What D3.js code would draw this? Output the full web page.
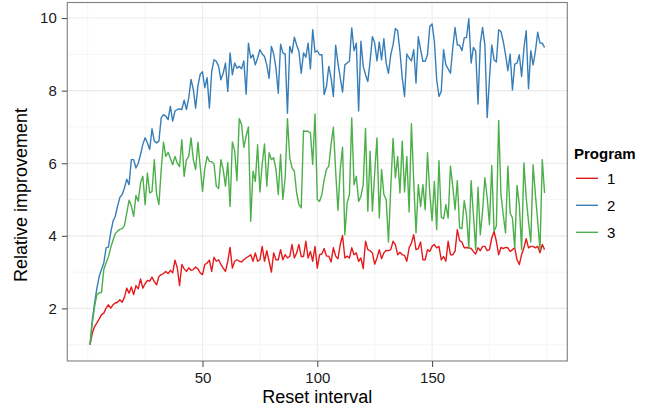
<!DOCTYPE html>
<html>
<head>
<meta charset="utf-8">
<script src="https://cdn.jsdelivr.net/npm/d3@7"></script>
<style>
  html, body { margin: 0; padding: 0; background: #fff; }
  svg { display: block; font-family: "Liberation Sans", Arial, Helvetica, sans-serif; }
</style>
</head>
<body>
<svg id="chart" width="654" height="410"></svg>
<script>
// ---- Data ----
const programs = ["1", "2", "3"];
const colors = ["#E41A1C", "#377EB8", "#4DAF4A"];
const xTicks = [50, 100, 150];
const xMinor = [0, 25, 75, 125, 175, 200];
const yTicks = [2, 4, 6, 8, 10];
const yMinor = [1, 3, 5, 7, 9];

const program1 = [
  1.0, 1.32, 1.5, 1.6, 1.71, 1.83, 1.87, 2.01, 2.1, 2.01,
  2.1, 2.15, 2.17, 2.24, 2.17, 2.31, 2.56, 2.42, 2.59, 2.38,
  2.63, 2.54, 2.81, 2.56, 2.68, 2.77, 2.75, 2.86, 2.74, 2.65,
  2.88, 2.93, 2.96, 3.02, 2.96, 3.05, 2.98, 3.33, 3.12, 2.63,
  3.21, 3.09, 3.02, 3.12, 3.05, 3.07, 3.14, 3.09, 2.98, 2.93,
  3.21, 3.25, 3.33, 3.02, 3.41, 3.30, 3.34, 3.21, 3.11, 3.02,
  3.30, 3.68, 3.11, 3.30, 3.34, 3.30, 3.28, 3.34, 3.39, 3.43,
  3.48, 3.30, 3.53, 3.30, 3.34, 3.71, 3.30, 3.59, 3.30, 3.00,
  3.53, 3.34, 3.34, 3.62, 3.34, 3.48, 3.39, 3.43, 3.76, 3.39,
  3.53, 3.76, 3.43, 3.43, 3.85, 3.39, 3.57, 3.30, 3.71, 3.11,
  3.48, 3.50, 3.65, 3.44, 3.44, 3.28, 3.67, 3.44, 3.37, 3.76,
  4.01, 3.39, 3.44, 3.39, 3.67, 3.48, 3.53, 3.30, 3.39, 3.10,
  3.85, 3.62, 3.59, 3.53, 3.22, 3.39, 3.62, 3.37, 3.53, 3.60,
  3.59, 3.62, 3.85, 3.76, 3.48, 3.55, 3.48, 3.46, 3.30, 3.67,
  3.80, 4.03, 3.62, 3.65, 3.83, 3.34, 3.34, 3.62, 3.57, 3.71,
  3.76, 3.67, 3.71, 3.34, 3.43, 3.30, 3.85, 3.48, 3.48, 3.57,
  4.17, 3.87, 3.83, 3.67, 3.68, 3.67, 3.65, 3.57, 3.50, 3.67,
  3.59, 3.71, 3.71, 3.59, 3.62, 3.94, 4.12, 3.85, 3.48, 3.68,
  3.65, 3.68, 3.67, 3.57, 3.62, 3.67, 3.34, 3.21, 3.48, 3.67,
  3.92, 3.67, 3.71, 3.71, 3.67, 3.71, 3.53, 3.76, 3.62
];

const program2 = [
  1.0, 1.69, 2.15, 2.56, 2.88, 3.07, 3.25, 3.67, 3.69, 4.08,
  4.4, 4.54, 4.82, 5.06, 5.14, 5.32, 5.56, 5.41, 6.1, 6.1,
  5.87, 6.0, 6.24, 6.52, 6.7, 6.56, 6.38, 6.95, 6.61, 6.56,
  6.61, 7.25, 7.34, 7.3, 7.2, 7.57, 7.16, 7.44, 7.48, 7.5,
  7.48, 7.74, 7.48, 7.8, 8.31, 8.03, 7.52, 8.13, 8.45, 8.52,
  8.08, 8.36, 7.52, 8.53, 8.85, 8.81, 8.67, 8.30, 8.48, 8.76,
  7.98, 9.04, 8.44, 8.76, 8.62, 8.67, 8.60, 8.82, 7.90, 9.31,
  8.90, 8.99, 8.71, 8.90, 9.13, 9.01, 8.94, 8.71, 8.34, 9.22,
  9.01, 8.62, 7.93, 9.28, 9.04, 9.01, 7.38, 9.22, 9.04, 9.47,
  9.26, 9.08, 8.48, 9.04, 8.92, 9.31, 8.60, 9.68, 9.06, 9.10,
  8.99, 8.99, 7.89, 8.12, 8.67, 8.35, 7.84, 9.25, 8.76, 8.35,
  7.96, 8.71, 8.76, 8.81, 9.73, 9.10, 9.31, 7.44, 9.36, 8.67,
  8.44, 8.25, 8.81, 9.49, 9.31, 8.82, 9.34, 8.85, 9.43, 8.76,
  8.48, 8.99, 9.26, 9.71, 9.65, 9.08, 8.35, 7.84, 9.01, 8.90,
  8.82, 9.13, 8.21, 9.49, 9.13, 8.81, 8.81, 8.99, 9.77, 9.84,
  9.36, 8.30, 7.84, 7.98, 9.13, 8.71, 8.60, 8.48, 9.17, 9.74,
  9.26, 9.25, 9.10, 9.45, 9.47, 9.98, 8.76, 9.19, 9.08, 7.63,
  9.31, 9.74, 9.26, 7.26, 8.34, 9.26, 8.85, 8.79, 9.68, 9.63,
  9.36, 8.99, 8.55, 9.01, 8.02, 8.73, 8.76, 8.99, 8.39, 9.17,
  9.65, 8.05, 9.10, 8.71, 9.08, 9.61, 9.31, 9.31, 9.19
];

const program3 = [
  1.0, 1.6, 2.06, 2.38, 2.43, 2.44, 3.07, 3.25, 3.42, 3.67,
  3.88, 4.06, 4.13, 4.18, 4.2, 4.28, 4.63, 4.98, 4.82, 4.54,
  5.11, 4.95, 5.46, 5.64, 4.86, 5.73, 5.18, 5.22, 6.1, 5.14,
  4.86, 5.82, 6.58, 6.19, 6.3, 6.14, 5.96, 6.19, 6.0, 5.91,
  6.65, 5.64, 6.1, 6.19, 6.7, 6.1, 5.83, 6.58, 5.91, 5.22,
  5.86, 6.19, 6.05, 6.04, 5.98, 5.37, 5.30, 6.10, 5.83, 5.37,
  6.02, 4.81, 6.59, 6.34, 5.52, 7.23, 7.07, 6.44, 6.75, 7.0,
  4.40, 5.78, 5.50, 6.51, 5.21, 5.98, 6.53, 5.37, 6.29, 6.10,
  6.15, 5.83, 5.14, 6.24, 5.00, 5.60, 7.23, 6.15, 5.87, 5.78,
  5.18, 4.86, 4.77, 6.90, 6.88, 6.88, 6.84, 5.97, 7.36, 5.00,
  4.95, 5.14, 5.55, 5.83, 5.92, 6.52, 6.99, 5.78, 4.70, 5.83,
  6.44, 4.03, 4.90, 5.14, 7.25, 5.41, 5.64, 4.95, 5.09, 5.41,
  6.96, 4.68, 6.33, 4.68, 5.73, 6.70, 4.49, 5.83, 5.14, 5.00,
  3.83, 5.32, 6.68, 5.60, 6.19, 5.18, 6.61, 5.21, 6.19, 4.66,
  7.09, 5.50, 4.08, 5.41, 4.81, 5.41, 4.72, 6.29, 5.18, 4.42,
  5.50, 4.17, 6.07, 4.51, 4.47, 4.86, 4.49, 5.92, 5.37, 4.72,
  5.52, 4.22, 4.20, 4.97, 4.58, 3.66, 5.52, 4.58, 3.62, 5.34,
  4.03, 4.68, 5.60, 5.05, 4.31, 5.94, 4.13, 4.27, 7.18, 5.14,
  4.58, 4.08, 5.92, 4.63, 4.49, 3.66, 5.39, 4.86, 3.62, 6.01,
  5.05, 4.40, 3.83, 5.96, 5.14, 4.40, 3.62, 6.10, 5.18
];

const seriesValues = [program1, program2, program3];

// ---- Layout ----
const panel = { left: 67.3, right: 567.3, top: 2.5, bottom: 361 };
const svg = d3.select("#chart");

const n = program1.length;
const xPad = 0.05 * (n - 1);
const x = d3.scaleLinear().domain([1 - xPad, n + xPad]).range([panel.left, panel.right]);

const allVals = seriesValues.flat();
const [yMin, yMax] = d3.extent(allVals);
const yPad = 0.05 * (yMax - yMin);
const y = d3.scaleLinear().domain([yMin - yPad, yMax + yPad]).range([panel.bottom, panel.top]);

// Panel background
svg.append("rect")
  .attr("x", panel.left).attr("y", panel.top)
  .attr("width", panel.right - panel.left).attr("height", panel.bottom - panel.top)
  .attr("fill", "#fff");

const grid = svg.append("g");
// Minor grid
grid.selectAll("line.xmin").data(xMinor).join("line")
  .attr("x1", d => x(d)).attr("x2", d => x(d))
  .attr("y1", panel.top).attr("y2", panel.bottom)
  .attr("stroke", "#F5F5F5").attr("stroke-width", 1);
grid.selectAll("line.ymin").data(yMinor).join("line")
  .attr("x1", panel.left).attr("x2", panel.right)
  .attr("y1", d => y(d)).attr("y2", d => y(d))
  .attr("stroke", "#F5F5F5").attr("stroke-width", 1);
// Major grid
grid.selectAll("line.xmaj").data(xTicks).join("line")
  .attr("x1", d => x(d)).attr("x2", d => x(d))
  .attr("y1", panel.top).attr("y2", panel.bottom)
  .attr("stroke", "#EBEBEB").attr("stroke-width", 1.1);
grid.selectAll("line.ymaj").data(yTicks).join("line")
  .attr("x1", panel.left).attr("x2", panel.right)
  .attr("y1", d => y(d)).attr("y2", d => y(d))
  .attr("stroke", "#EBEBEB").attr("stroke-width", 1.1);

// Lines
const line = d3.line().x((d, i) => x(i + 1)).y(d => y(d));
const lines = svg.append("g")
  .attr("clip-path", null);
seriesValues.forEach((vals, k) => {
  lines.append("path")
    .datum(vals)
    .attr("d", line)
    .attr("fill", "none")
    .attr("stroke", colors[k])
    .attr("stroke-width", 1.4)
    .attr("stroke-linejoin", "round");
});

// Panel border
svg.append("rect")
  .attr("x", panel.left).attr("y", panel.top)
  .attr("width", panel.right - panel.left).attr("height", panel.bottom - panel.top)
  .attr("fill", "none").attr("stroke", "#7F7F7F").attr("stroke-width", 1.1);

// Axes
const xAxis = svg.append("g")
  .attr("transform", `translate(0,${panel.bottom})`)
  .call(d3.axisBottom(x).tickValues(xTicks).tickSize(6).tickPadding(5).tickFormat(d3.format("d")));
const yAxis = svg.append("g")
  .attr("transform", `translate(${panel.left},0)`)
  .call(d3.axisLeft(y).tickValues(yTicks).tickSize(5.5).tickPadding(5).tickFormat(d3.format("d")));

[xAxis, yAxis].forEach(a => {
  a.select(".domain").remove();
  a.selectAll(".tick line").attr("stroke", "#555").attr("stroke-width", 1.1);
  a.selectAll(".tick text")
    .attr("fill", "#1a1a1a")
    .style("font-size", "15px")
    .style("font-family", "'Liberation Sans', Arial, Helvetica, sans-serif");
});

// Axis titles
svg.append("text")
  .attr("x", (panel.left + panel.right) / 2).attr("y", 403)
  .attr("text-anchor", "middle")
  .attr("fill", "#000")
  .style("font-size", "18px")
  .text("Reset interval");

svg.append("text")
  .attr("transform", `translate(27,195) rotate(-90)`)
  .attr("text-anchor", "middle")
  .attr("fill", "#000")
  .style("font-size", "18px")
  .text("Relative improvement");

// Legend
const legend = svg.append("g");
legend.append("text")
  .attr("x", 574).attr("y", 158.5)
  .attr("fill", "#000")
  .style("font-size", "15px").style("font-weight", "bold")
  .text("Program");
const legendY = d3.scalePoint().domain(programs).range([178.3, 232.3]);
programs.forEach((p, k) => {
  const yy = legendY(p);
  legend.append("line")
    .attr("x1", 576).attr("x2", 598)
    .attr("y1", yy).attr("y2", yy)
    .attr("stroke", colors[k]).attr("stroke-width", 1.4);
  legend.append("text")
    .attr("x", 607).attr("y", yy)
    .attr("dy", "0.36em")
    .attr("fill", "#000")
    .style("font-size", "15px")
    .text(p);
});
</script>
</body>
</html>
